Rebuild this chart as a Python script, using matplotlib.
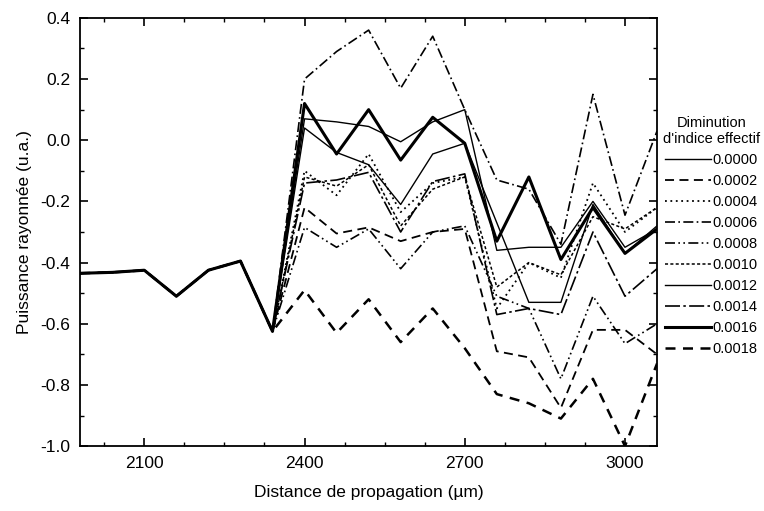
import matplotlib.pyplot as plt
from matplotlib.ticker import MultipleLocator

plt.rcParams['font.family'] = ['Liberation Sans', 'DejaVu Sans']

# common part (all curves overlap before the index change)
x_common = [1980, 2040, 2100, 2160, 2220, 2280, 2340]
y_common = [-0.435, -0.432, -0.425, -0.51, -0.425, -0.395, -0.625]

x_branch = [2400, 2460, 2520, 2580, 2640, 2700, 2760, 2820, 2880, 2940, 3000, 3060]

labels = ['0.0000', '0.0002', '0.0004', '0.0006', '0.0008',
          '0.0010', '0.0012', '0.0014', '0.0016', '0.0018']

y_0000 = [0.04, -0.04, -0.08, -0.21, -0.045, -0.01, -0.27, -0.53, -0.53, -0.21, -0.37, -0.28]
y_0002 = [-0.22, -0.305, -0.285, -0.33, -0.30, -0.29, -0.69, -0.71, -0.875, -0.62, -0.62, -0.70]
y_0004 = [-0.10, -0.18, -0.045, -0.235, -0.14, -0.12, -0.55, -0.40, -0.45, -0.14, -0.30, -0.22]
y_0006 = [0.20, 0.29, 0.36, 0.17, 0.34, 0.10, -0.13, -0.16, -0.34, 0.15, -0.245, 0.03]
y_0008 = [-0.285, -0.35, -0.29, -0.42, -0.30, -0.28, -0.51, -0.55, -0.78, -0.51, -0.665, -0.60]
y_0010 = [-0.12, -0.15, -0.08, -0.28, -0.16, -0.12, -0.48, -0.40, -0.44, -0.25, -0.29, -0.22]
y_0012 = [0.07, 0.06, 0.045, -0.005, 0.06, 0.10, -0.36, -0.35, -0.35, -0.20, -0.35, -0.29]
y_0014 = [-0.14, -0.13, -0.105, -0.30, -0.135, -0.11, -0.57, -0.55, -0.57, -0.30, -0.51, -0.42]
y_0016 = [0.12, -0.045, 0.10, -0.065, 0.075, -0.01, -0.33, -0.12, -0.39, -0.22, -0.37, -0.29]
y_0018 = [-0.49, -0.63, -0.52, -0.66, -0.55, -0.68, -0.83, -0.86, -0.91, -0.78, -1.0, -0.73]

series = [y_0000, y_0002, y_0004, y_0006, y_0008,
          y_0010, y_0012, y_0014, y_0016, y_0018]

styles = [
    dict(linestyle='-', lw=1.0),
    dict(linestyle=(0, (5, 3)), lw=1.3),
    dict(linestyle=(0, (1, 2)), lw=1.3),
    dict(linestyle=(0, (6, 2, 1, 2)), lw=1.2),
    dict(linestyle=(0, (6, 2, 1, 2, 1, 2)), lw=1.2),
    dict(linestyle=(0, (2, 1.5)), lw=1.1),
    dict(linestyle='-', lw=1.0),
    dict(linestyle=(0, (9, 2, 1.5, 2)), lw=1.2),
    dict(linestyle='-', lw=2.2),
    dict(linestyle=(0, (4, 3)), lw=1.8),
]

fig = plt.figure(figsize=(7.64, 5.11), dpi=100)
ax = fig.add_axes([0.105, 0.127, 0.755, 0.838])

for lab, ys, st in zip(labels, series, styles):
    ax.plot(x_common + x_branch, y_common + ys, color='black', label=lab, **st)

ax.set_xlim(1980, 3060)
ax.set_ylim(-1.0, 0.4)
ax.set_xticks([2100, 2400, 2700, 3000])
ax.xaxis.set_minor_locator(MultipleLocator(75))
ax.set_yticks([-1.0, -0.8, -0.6, -0.4, -0.2, 0.0, 0.2, 0.4])
ax.yaxis.set_minor_locator(MultipleLocator(0.1))
ax.set_yticklabels(['-1.0', '-0.8', '-0.6', '-0.4', '-0.2', '0.0', '0.2', '0.4'])
ax.tick_params(which='both', direction='in', top=True, right=True, labelsize=12.5)
ax.tick_params(which='major', length=6, width=1.2, pad=7)
ax.tick_params(which='minor', length=3, width=1)
for sp in ax.spines.values():
    sp.set_linewidth(1.3)

ax.set_xlabel('Distance de propagation (µm)', fontsize=12.5, labelpad=10)
ax.set_ylabel('Puissance rayonnée (u.a.)', fontsize=12.5, labelpad=6)

leg = ax.legend(title="Diminution\nd'indice effectif", loc='upper left',
                bbox_to_anchor=(1.0, 0.785), frameon=False, fontsize=10.5,
                title_fontsize=10.5, handlelength=3.2, handletextpad=0.1,
                labelspacing=0.48, borderaxespad=0)
leg.get_title().set_multialignment('center')

fig.savefig('out.png', dpi=100)
